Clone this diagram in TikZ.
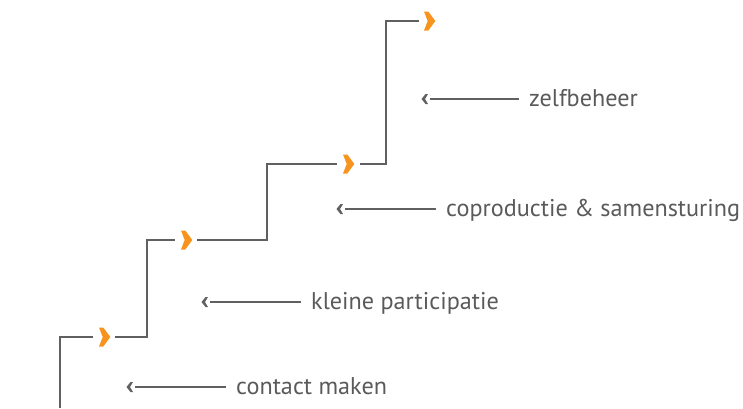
\documentclass[tikz,border=0pt]{standalone}
\usepackage{fontspec}
\setmainfont{PT Sans}
\definecolor{stairgrey}{HTML}{606060}
\definecolor{textgrey}{HTML}{5A5A5A}
\definecolor{chevorange}{HTML}{F7941D}
\begin{document}
\begin{tikzpicture}[x=1pt,y=-1pt,
  stairline/.style={draw=stairgrey,line width=2.8pt},
  pointerline/.style={draw=stairgrey,line width=2pt},
  lbl/.style={anchor=base west,inner sep=0pt,text=textgrey,font=\fontsize{24.2}{28}\selectfont},
  chev/.pic={\fill[chevorange] (-5.5,-9.5) -- (-1.2,-9.5) -- (5.8,0) -- (-1.2,9.5) -- (-5.5,9.5) -- (-1.8,0) -- cycle;},
  ptip/.pic={\fill[stairgrey] (2.5,-5) -- (5,-5) -- (2,0) -- (5,5) -- (2.5,5) -- (-1.5,0) -- cycle;}
]
\useasboundingbox (0,0) rectangle (743,408);
% chevron centres
\coordinate (c1) at (104.5,337);
\coordinate (c2) at (186.5,240);
\coordinate (c3) at (348.5,164);
\coordinate (c4) at (429.5,21);
\coordinate (s0) at (60,408);
% stairs
\draw[stairline] (s0) |- ([xshift=-11.5pt]c1);
\draw[stairline] ([xshift=10.5pt]c1) -| (147,240) -- ([xshift=-11.5pt]c2);
\draw[stairline] ([xshift=10.5pt]c2) -| (267,164) -- ([xshift=-11.5pt]c3);
\draw[stairline] ([xshift=11.5pt]c3) -| (386,21) -- ([xshift=-10.5pt]c4);
\foreach \c in {c1,c2,c3,c4} \pic at (\c) {chev};
% labels
\node[lbl] (l1) at (236,394) {contact maken};
\node[lbl] (l2) at (311,309) {kleine participatie};
\node[lbl] (l3) at (446,216) {coproductie \& samensturing};
\node[lbl] (l4) at (529,106) {zelfbeheer};
% pointer tips
\coordinate (p1) at (128,387);
\coordinate (p2) at (203,302);
\coordinate (p3) at (338,209);
\coordinate (p4) at (423,99);
\foreach \p/\l in {p1/l1,p2/l2,p3/l3,p4/l4}{
  \pic at (\p) {ptip};
  \draw[pointerline] ([xshift=7pt]\p) -- ([xshift=-10pt]\l.base west |- \p);
}
\end{tikzpicture}
\end{document}
